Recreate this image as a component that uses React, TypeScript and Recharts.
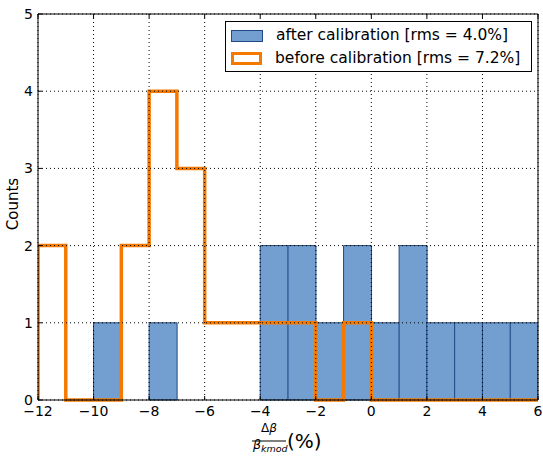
import React from 'react';
import { ComposedChart, Bar, Line, XAxis, YAxis, CartesianGrid, Legend } from 'recharts';

// bin edges: -12 ... 6 (width 1)
const binCenters = [-11.5, -10.5, -9.5, -8.5, -7.5, -6.5, -5.5, -4.5, -3.5, -2.5, -1.5, -0.5, 0.5, 1.5, 2.5, 3.5, 4.5, 5.5];
const binEdges = [-12, -11, -10, -9, -8, -7, -6, -5, -4, -3, -2, -1, 0, 1, 2, 3, 4, 5];
const afterCounts = [0, 0, 1, 0, 1, 0, 0, 0, 2, 2, 1, 2, 1, 2, 1, 1, 1, 1];
const beforeCounts = [2, 0, 0, 2, 4, 3, 1, 1, 1, 1, 0, 1, 0, 0, 0, 0, 0, 0];
const xTicks = [-12, -10, -8, -6, -4, -2, 0, 2, 4, 6];
const yTicks = [0, 1, 2, 3, 4, 5];
const afterLabel = 'after calibration [rms = 4.0%]';
const beforeLabel = 'before calibration [rms = 7.2%]';

const barData = binCenters.map((c, i) => ({ x: c, after: afterCounts[i] }));
const stepData = [
  { x: binEdges[0], before: 0 },
  ...binEdges.map((e, i) => ({ x: e, before: beforeCounts[i] })),
  { x: 6, before: 0 },
];

const BLUE = '#729fcf';
const BLUE_EDGE = '#204a87';
const ORANGE = '#f57900';
const FONT = 'DejaVu Sans, sans-serif';

const fmt = (v: number) => (v < 0 ? '\u2212' + Math.abs(v) : String(v));

const XLabel = (props: any) => {
  const vb = props.viewBox;
  const cx = vb.x + vb.width / 2;
  return (
    <g fontFamily={FONT} fill="#000">
      <text x={cx - 19} y={vb.y + 32} fontSize={12} textAnchor="middle">
        Δ<tspan fontStyle="italic">β</tspan>
      </text>
      <line x1={cx - 36} x2={cx - 2} y1={vb.y + 41} y2={vb.y + 41} stroke="#000" strokeWidth={1} />
      <text x={cx - 35} y={vb.y + 49} fontSize={12.5} fontStyle="italic">
        β<tspan fontSize={9.5} dy={3}>kmod</tspan>
      </text>
      <text x={cx - 1} y={vb.y + 48} fontSize={20}>(%)</text>
    </g>
  );
};

const YLabel = (props: any) => {
  const vb = props.viewBox;
  const x = vb.x + 13;
  const y = vb.y + vb.height / 2 - 3;
  return (
    <text x={x} y={y} fontSize={15} fontFamily={FONT} textAnchor="middle" dominantBaseline="central" transform={`rotate(-90, ${x}, ${y})`} fill="#000">
      Counts
    </text>
  );
};

const LegendBox = () => (
  <div
    style={{
      border: '1px solid #000',
      background: '#fff',
      fontFamily: FONT,
      fontSize: 15.5,
      padding: '2px 5px',
      boxSizing: 'border-box',
      width: 307,
      height: 51,
      color: '#000',
      lineHeight: 1,
    }}
  >
    <div style={{ display: 'flex', alignItems: 'center', height: 23 }}>
      <div style={{ width: 30, height: 10, background: BLUE, border: `1px solid ${BLUE_EDGE}`, marginRight: 13, flex: 'none' }} />
      <span style={{ whiteSpace: 'nowrap' }}>{afterLabel}</span>
    </div>
    <div style={{ display: 'flex', alignItems: 'center', height: 23 }}>
      <div style={{ width: 25, height: 7, background: '#fff', border: `3.5px solid ${ORANGE}`, marginRight: 13, flex: 'none' }} />
      <span style={{ whiteSpace: 'nowrap' }}>{beforeLabel}</span>
    </div>
  </div>
);

export default function App() {
  return (
    <div style={{ position: 'absolute', left: 0, top: 0, width: 543, height: 457, background: '#fff' }}>
      <ComposedChart
        width={543}
        height={457}
        data={barData}
        margin={{ top: 0, right: 0, bottom: 0, left: 0 }}
        barCategoryGap={0}
        barGap={0}
      >
        <XAxis
          xAxisId="b"
          dataKey="x"
          type="number"
          domain={[-12, 6]}
          ticks={xTicks}
          allowDataOverflow
          orientation="bottom"
          height={57}
          stroke="#000"
          tickSize={-4}
          tickMargin={10}
          tickFormatter={fmt}
          tick={{ fill: '#000', fontSize: 14, fontFamily: FONT }}
          label={<XLabel />}
        />
        <XAxis
          xAxisId="t"
          dataKey="x"
          type="number"
          domain={[-12, 6]}
          ticks={xTicks}
          allowDataOverflow
          orientation="top"
          height={14}
          stroke="#000"
          tickSize={-4}
          tickFormatter={() => ''}
        />
        <YAxis
          yAxisId="l"
          type="number"
          domain={[0, 5]}
          ticks={yTicks}
          orientation="left"
          width={38}
          stroke="#000"
          tickSize={-4}
          tickMargin={9}
          tick={{ fill: '#000', fontSize: 14, fontFamily: FONT }}
          label={<YLabel />}
        />
        <YAxis
          yAxisId="r"
          type="number"
          domain={[0, 5]}
          ticks={yTicks}
          orientation="right"
          width={5}
          stroke="#000"
          tickSize={-4}
          tickFormatter={() => ''}
        />
        <Bar
          xAxisId="b"
          yAxisId="l"
          dataKey="after"
          fill={BLUE}
          stroke={BLUE_EDGE}
          strokeWidth={1}
          isAnimationActive={false}
        />
        <Line
          xAxisId="t"
          yAxisId="l"
          data={stepData}
          dataKey="before"
          type="stepAfter"
          stroke={ORANGE}
          strokeWidth={3.5}
          strokeLinejoin="miter"
          dot={false}
          activeDot={false}
          isAnimationActive={false}
        />
        <CartesianGrid
          xAxisId="b"
          yAxisId="l"
          stroke="#000"
          strokeDasharray="1 3"
          {...({ zIndex: 2000 } as any)}
        />
        <Legend
          layout="horizontal"
          verticalAlign="middle"
          align="center"
          content={<LegendBox />}
          wrapperStyle={{ position: 'absolute', left: 225, top: 21, width: 307 }}
        />
      </ComposedChart>
    </div>
  );
}
